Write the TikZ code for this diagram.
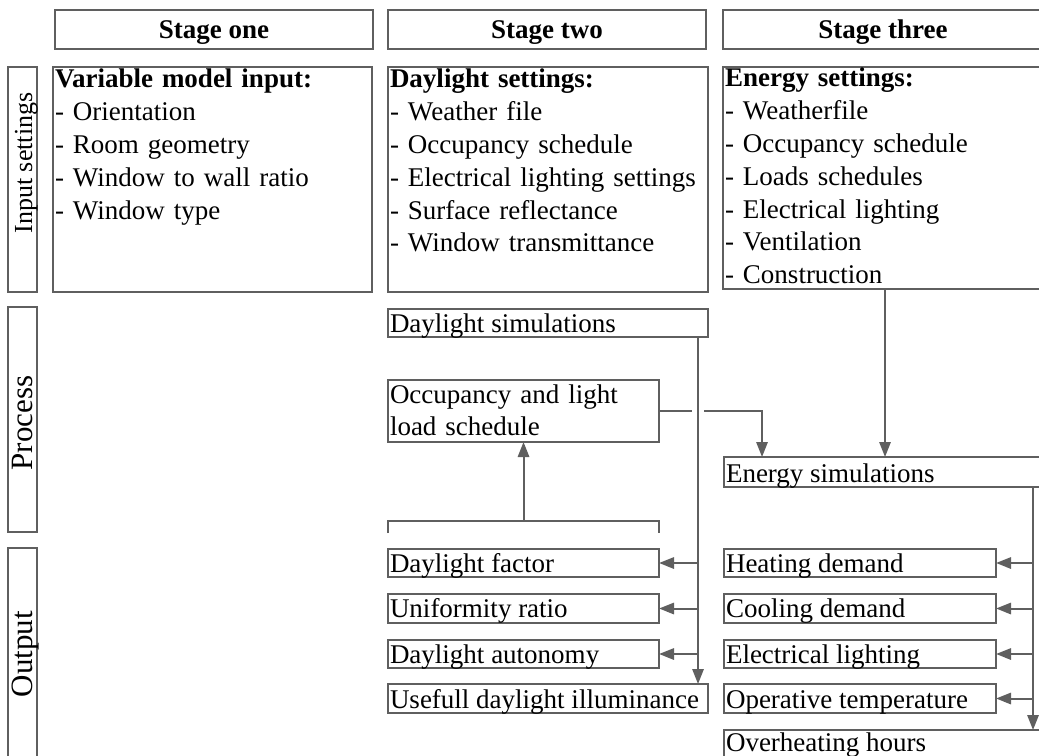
\documentclass[tikz,border=0pt]{standalone}
\usepackage{fontspec}
\setmainfont{Liberation Serif}
\usetikzlibrary{arrows.meta,calc}
\definecolor{lc}{RGB}{95,95,95}
\newcommand\mkbox[5]{\node[bx, anchor=north west, minimum width={(#4-(#2))*0.75pt}, minimum height={(#5-(#3))*0.75pt}] (#1) at (#2,#3) {};}
\begin{document}
\begin{tikzpicture}[x=0.75pt,y=-0.75pt,
  bx/.style={draw=lc, line width=1.5pt, inner sep=0pt, outer sep=0pt, rectangle},
  conn/.style={draw=lc, line width=1.5pt},
  arr/.style={conn, -{Triangle[length=11.25pt,width=8.5pt]}},
  tx/.style={inner sep=0pt, outer sep=0pt, font=\fontsize{20.25}{24.6}\selectfont, text=black, align=left},
  hd/.style={tx, font=\fontsize{20.25}{24.6}\selectfont\bfseries, align=center},
  side/.style={tx, rotate=90, anchor=base, align=center},
]
\useasboundingbox (0,0) rectangle (1039,756);
\clip (0,0) rectangle (1039,756);

% header boxes
\mkbox{h1}{55}{10}{373}{49}
\mkbox{h2}{388}{10}{706}{49}
\mkbox{h3}{723}{10}{1043}{49}
\node[hd, anchor=base] (h1t) at (214,39) {Stage one};
\node[hd, anchor=base] (h2t) at (547,39) {Stage two};
\node[hd, anchor=base] (h3t) at (883,39) {Stage three};

% side boxes
\mkbox{s1}{8}{67}{37}{292}
\mkbox{s2}{8}{307}{37}{532}
\mkbox{s3}{8}{548}{37}{780}
\node[side, font=\fontsize{19.5}{20}\selectfont] (s1t) at (32,163) {Input settings};
\node[side, font=\fontsize{23.25}{24}\selectfont] (s2t) at (32,423) {Process};
\node[side, font=\fontsize{23.25}{24}\selectfont] (s3t) at (32,654) {Output};

% input boxes
\mkbox{in1}{53}{67}{372}{292}
\mkbox{in2}{388}{67}{708}{292}
\mkbox{in3}{723}{67}{1043}{289}
\node[tx, anchor=base west, text width=235pt] (in1t) at (55,88)
  {\textbf{Variable model input:}\\- Orientation\\- Room geometry\\- Window to wall ratio\\- Window type};
\node[tx, anchor=base west, text width=235pt] (in2t) at (390,88)
  {\textbf{Daylight settings:}\\- Weather file\\- Occupancy schedule\\- Electrical lighting settings\\- Surface reflectance\\- Window transmittance};
\node[tx, anchor=base west, text width=235pt] (in3t) at (725,87)
  {\textbf{Energy settings:}\\- Weatherfile\\- Occupancy schedule\\- Loads schedules\\- Electrical lighting\\- Ventilation\\- Construction};

% process boxes
\mkbox{dsim}{388}{309}{708}{337}
\mkbox{occ}{388}{380}{659}{442}
\mkbox{esim}{724}{457}{1043}{487}
\node[tx, anchor=base west] (dsimt) at (390,332) {Daylight simulations};
\node[tx, anchor=base west, text width=200pt] (occt) at (390,403) {Occupancy and light\\load schedule};
\node[tx, anchor=base west] (esimt) at (726,482) {Energy simulations};

% output boxes
\mkbox{df}{388}{549}{659}{577}
\mkbox{ur}{388}{594}{659}{623}
\mkbox{da}{388}{640}{659}{668}
\mkbox{udi}{388}{684}{708}{713}
\mkbox{hdm}{724}{549}{996}{577}
\mkbox{cdm}{724}{594}{996}{623}
\mkbox{el}{724}{640}{996}{668}
\mkbox{ot}{724}{684}{996}{713}
\mkbox{oh}{724}{730}{1043}{780}
\node[tx, anchor=base west] (dft) at (390,572) {Daylight factor};
\node[tx, anchor=base west] (urt) at (390,617) {Uniformity ratio};
\node[tx, anchor=base west] (dat) at (390,663) {Daylight autonomy};
\node[tx, anchor=base west] (udit) at (390,708) {Usefull daylight illuminance};
\node[tx, anchor=base west] (hdmt) at (726,572) {Heating demand};
\node[tx, anchor=base west] (cdmt) at (726,617) {Cooling demand};
\node[tx, anchor=base west] (elt) at (726,663) {Electrical lighting};
\node[tx, anchor=base west] (ott) at (726,708) {Operative temperature};
\node[tx, anchor=base west] (oht) at (726,751) {Overheating hours};

% connectors: daylight simulations
\coordinate (dv) at ($(dsim.south east)+(-10,0)$);
\draw[arr] (dv) -- (dv |- udi.north);
\draw[arr] (df.east -| dv) -- (df.east);
\draw[arr] (ur.east -| dv) -- (ur.east);
\draw[arr] (da.east -| dv) -- (da.east);

% occupancy -> energy simulations (with bridge gap)
\draw[conn] (occ.east) -- ($(occ.east -| dv)+(-6,0)$);
\draw[arr] ($(occ.east -| dv)+(6,0)$) -| ($(esim.north west)+(38,0)$);

% stage three input -> energy simulations
\coordinate (e3) at ($(in3.south west)+(162,0)$);
\draw[arr] (e3) -- (e3 |- esim.north);

% bracket under occupancy
\coordinate (bl) at (388,533);
\coordinate (br) at (659,533);
\draw[conn] (bl) -- ++(0,-12) -| (br);
\draw[arr] ($(occ.south |- bl)+(0,-12)$) -- (occ.south);

% energy simulations outputs
\coordinate (ev) at ($(esim.south west)+(309,0)$);
\draw[arr] (ev) -- (ev |- oh.north);
\draw[arr] (hdm.east -| ev) -- (hdm.east);
\draw[arr] (cdm.east -| ev) -- (cdm.east);
\draw[arr] (el.east -| ev) -- (el.east);
\draw[arr] (ot.east -| ev) -- (ot.east);
\end{tikzpicture}
\end{document}
